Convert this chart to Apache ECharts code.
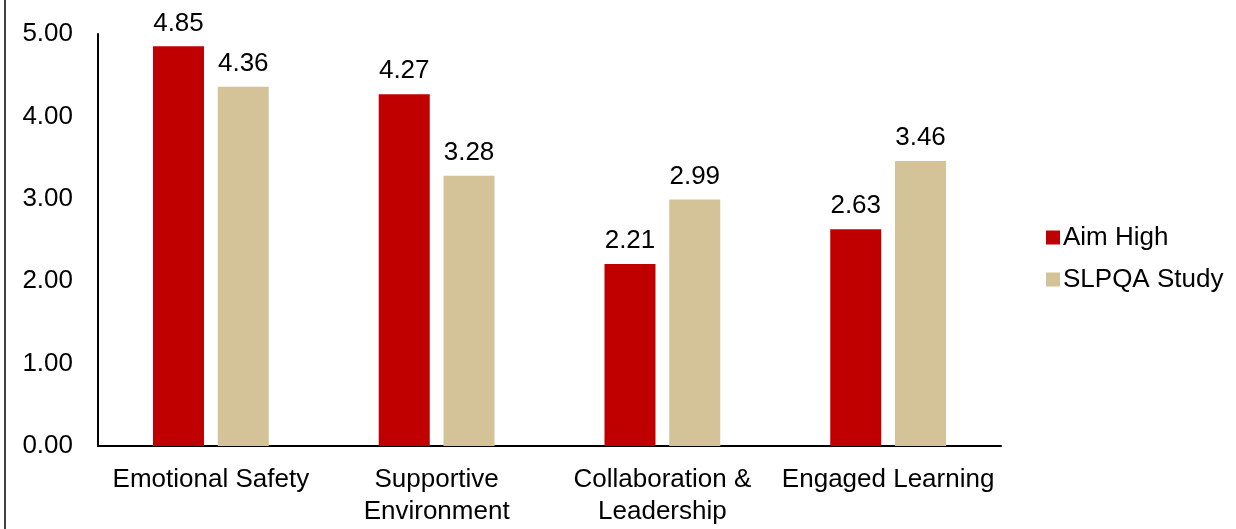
<!DOCTYPE html>
<html><head><meta charset="utf-8">
<script src="https://cdn.jsdelivr.net/npm/echarts@6/dist/echarts.min.js"></script>
<style>html,body{margin:0;padding:0;background:#fff}#c{width:1236px;height:529px}</style>
</head><body><div id="c"></div>
<script>
const categories = ['Emotional Safety', 'Supportive\nEnvironment', 'Collaboration &\nLeadership', 'Engaged Learning'];
const aimHigh = [4.85, 4.27, 2.21, 2.63];
const slpqa = [4.36, 3.28, 2.99, 3.46];
const seriesNames = ['Aim High', 'SLPQA Study'];
const yTicks = {min: 0, max: 5, interval: 1};

const chart = echarts.init(document.getElementById('c'));
const font = 'Liberation Sans, Arial, sans-serif';
const fs = 26;
const lbl = {show: true, position: 'top', distance: 10, formatter: p => p.value.toFixed(2), fontFamily: font, fontSize: fs, color: '#000'};
chart.setOption({
  animation: false,
  grid: {left: 98, right: 235, top: 34, bottom: 83},
  legend: {
    orient: 'vertical', left: 1041, top: 218, itemWidth: 14, itemHeight: 14, itemGap: 13,
    icon: 'rect', textStyle: {fontFamily: font, fontSize: fs, color: '#000', padding: [0, 0, 0, -2], lineHeight: 29},
    data: seriesNames
  },
  xAxis: {
    type: 'category', data: categories,
    axisLine: {lineStyle: {color: '#000', width: 2}}, axisTick: {show: false},
    axisLabel: {fontFamily: font, fontSize: fs, color: '#000', lineHeight: 32, margin: 18, interval: 0}
  },
  yAxis: {
    type: 'value', min: yTicks.min, max: yTicks.max, interval: yTicks.interval,
    axisLine: {show: true, lineStyle: {color: '#000', width: 2}}, axisTick: {show: false},
    splitLine: {show: false},
    axisLabel: {formatter: v => v.toFixed(2), fontFamily: font, fontSize: fs, color: '#000', margin: 25}
  },
  graphic: [{type: 'line', shape: {x1: 5, y1: 0, x2: 5, y2: 529}, style: {stroke: '#000', lineWidth: 1.5}}],
  series: [
    {name: seriesNames[0], type: 'bar', data: aimHigh, barWidth: 51, barGap: '27%', itemStyle: {color: '#C00000'}, label: lbl},
    {name: seriesNames[1], type: 'bar', data: slpqa, barWidth: 51, itemStyle: {color: '#D4C398'}, label: lbl}
  ]
});
</script></body></html>
